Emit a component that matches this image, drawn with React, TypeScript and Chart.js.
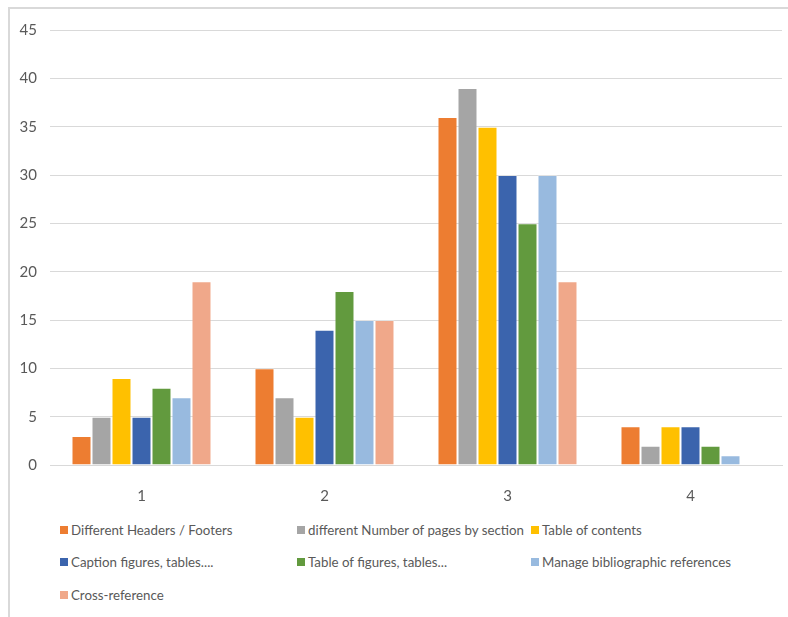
import React, { useEffect, useRef } from "react";
import { Chart, registerables } from "chart.js";

Chart.register(...registerables);

const categories = ["1", "2", "3", "4"];
const seriesNames = [
  "Different Headers / Footers",
  "different Number of pages by section",
  "Table of contents",
  "Caption figures, tables....",
  "Table of figures, tables...",
  "Manage bibliographic references",
  "Cross-reference",
];
const headersFooters = [3, 10, 36, 4];
const pagesBySection = [5, 7, 39, 2];
const tableOfContents = [9, 5, 35, 4];
const captionFigures = [5, 14, 30, 4];
const tableOfFigures = [8, 18, 25, 2];
const bibliographic = [7, 15, 30, 1];
const crossReference = [19, 15, 19, 0];
const seriesValues = [
  headersFooters,
  pagesBySection,
  tableOfContents,
  captionFigures,
  tableOfFigures,
  bibliographic,
  crossReference,
];
const colors = ["#ED7D31", "#A5A5A5", "#FFC000", "#3B64AD", "#629A3E", "#98BADF", "#F0A88A"];
const yTicks = [0, 5, 10, 15, 20, 25, 30, 35, 40, 45];

const FONT = "Lato, 'Open Sans', sans-serif";
const TEXT = "#595959";

export default function App() {
  const ref = useRef<HTMLCanvasElement | null>(null);

  useEffect(() => {
    document.body.style.margin = "0";
    document.documentElement.style.overflow = "hidden";
    if (!ref.current) return;
    const chart = new Chart(ref.current, {
      type: "bar",
      data: {
        labels: categories,
        datasets: seriesNames.map((name, i) => ({
          label: name,
          data: seriesValues[i],
          backgroundColor: colors[i],
          borderColor: "rgba(255,255,255,0.25)",
          borderWidth: 1,
          categoryPercentage: 0.765,
          barPercentage: 1,
        })),
      },
      options: {
        responsive: false,
        animation: false,
        layout: { padding: { left: 0, right: 6, top: 30, bottom: 0 } },
        plugins: {
          legend: { display: false },
          tooltip: { enabled: false },
        },
        scales: {
          x: {
            grid: { display: false },
            border: { display: true, color: "#d9d9d9", width: 1 },
            ticks: {
              color: TEXT,
              font: { family: FONT, size: 15 },
              padding: 14,
            },
            afterFit: (scale: any) => {
              scale.height = 45;
            },
          },
          y: {
            min: 0,
            max: 45,
            afterBuildTicks: (scale: any) => {
              scale.ticks = yTicks.map((v) => ({ value: v }));
            },
            grid: { color: "#d9d9d9", drawTicks: false },
            border: { display: false },
            ticks: {
              color: TEXT,
              font: { family: FONT, size: 15 },
              padding: 13,
            },
            afterFit: (scale: any) => {
              scale.width = 50;
            },
          },
        },
      },
    });
    return () => chart.destroy();
  }, []);

  const legendPos = [
    [60, 530],
    [297, 530],
    [531, 530],
    [60, 562],
    [297, 562],
    [531, 562],
    [60, 595],
  ];

  return (
    <div style={{ position: "relative", width: 788, height: 617, background: "#fff", overflow: "hidden" }}>
      <div style={{ position: "absolute", left: 8, top: 7, width: 780, height: 2, background: "#d9d9d9" }} />
      <div style={{ position: "absolute", left: 8, top: 7, width: 2, height: 610, background: "#d9d9d9" }} />
      <canvas ref={ref} width={788} height={510} style={{ position: "absolute", left: 0, top: 0 }} />
      {seriesNames.map((name, i) => (
        <div
          key={name}
          style={{
            position: "absolute",
            left: legendPos[i][0],
            top: legendPos[i][1] - 10,
            height: 20,
            display: "flex",
            alignItems: "center",
            fontFamily: FONT,
            fontSize: 13.3,
            color: TEXT,
            whiteSpace: "nowrap",
          }}
        >
          <span style={{ display: "inline-block", width: 8, height: 8, background: colors[i], marginRight: 3 }} />
          <span>{name}</span>
        </div>
      ))}
    </div>
  );
}
